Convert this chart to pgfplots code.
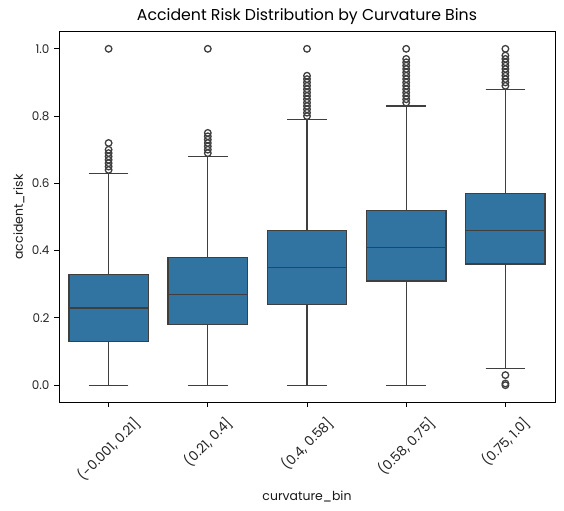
\documentclass[border=0pt]{standalone}
\usepackage{graphicx}
\usepackage{pgfplots}
\pgfplotsset{compat=1.18}
\usepgfplotslibrary{statistics}
\usetikzlibrary{calc}
\usepackage{fontspec}
\setmainfont{Poppins}
\definecolor{boxblue}{HTML}{3274A1}
\definecolor{edgegray}{HTML}{3F3F3F}
\pgfplotsset{
  bx/.style={
    boxplot prepared={#1},
    draw=edgegray, fill=boxblue, line width=1.3bp,
    boxplot/every whisker/.style={draw=edgegray, line width=1.3bp},
    boxplot/every median/.style={draw=edgegray, line width=1.4bp},
    mark=o, mark size=3.3bp,
    mark options={draw=edgegray, fill=none, line width=1.3bp, solid},
  },
}
\begin{document}
\begin{tikzpicture}
\begin{axis}[
  name=ax,
  boxplot/draw direction=y,
  scale only axis, width=496bp, height=370bp,
  xmin=-0.5, xmax=4.5, ymin=-0.05, ymax=1.05,
  xtick={0,1,2,3,4},
  xticklabels={
    {\rotatebox{45}{(-0.001, 0.21]}},
    {\rotatebox{45}{(0.21, 0.4]}},
    {\rotatebox{45}{(0.4, 0.58]}},
    {\rotatebox{45}{(0.58, 0.75]}},
    {\rotatebox{45}{(0.75, 1.0]}}},
  ytick={0,0.2,0.4,0.6,0.8,1.0},
  yticklabel style={/pgf/number format/fixed, /pgf/number format/fixed zerofill, /pgf/number format/precision=1},
  /pgf/number format/assume math mode=true,
  tick pos=left, tick align=outside,
  major tick length=4.9bp,
  every tick/.style={black, line width=1bp},
  axis line style={line width=1bp, black},
  tick label style={text=black!85},
  xticklabel style={anchor=north, inner sep=0pt, yshift=-8bp, font=\fontsize{13.5}{16}\selectfont},
  yticklabel style={anchor=east, inner sep=0pt, xshift=-4.5bp, font=\fontsize{12}{14}\selectfont},
  label style={font=\fontsize{12.5}{15}\selectfont, text=black!90},
  xlabel={curvature\_bin},
  ylabel={accident\_risk},
  xlabel style={at={(axis description cs:0.5,-0.267)}, anchor=base, inner sep=0pt},
  ylabel style={at={(axis description cs:-0.0726,0.5)}, anchor=base, inner sep=0pt},
  title={Accident Risk Distribution by Curvature Bins},
  title style={at={(axis description cs:0.5,1)}, anchor=base, yshift=6bp, inner sep=0pt, font=\fontsize{15.8}{19}\selectfont},
  clip=false,
]
\addplot[bx={draw position=0, box extend=0.8, whisker extend=0.4,
  lower whisker=0, lower quartile=0.13, median=0.23, upper quartile=0.33, upper whisker=0.63}]
  table[row sep=\\, y index=0] {data\\ 0.64\\ 0.65\\ 0.66\\ 0.67\\ 0.68\\ 0.69\\ 0.70\\ 0.72\\ 1.0\\};
\addplot[bx={draw position=1, box extend=0.8, whisker extend=0.4,
  lower whisker=0, lower quartile=0.18, median=0.27, upper quartile=0.38, upper whisker=0.68}]
  table[row sep=\\, y index=0] {data\\ 0.69\\ 0.70\\ 0.71\\ 0.72\\ 0.73\\ 0.74\\ 0.75\\ 1.0\\};
\addplot[bx={draw position=2, box extend=0.8, whisker extend=0.4,
  lower whisker=0, lower quartile=0.24, median=0.35, upper quartile=0.46, upper whisker=0.79}]
  table[row sep=\\, y index=0] {data\\ 0.80\\ 0.81\\ 0.82\\ 0.83\\ 0.84\\ 0.85\\ 0.86\\ 0.87\\ 0.88\\ 0.89\\ 0.90\\ 0.91\\ 0.92\\ 1.0\\};
\addplot[bx={draw position=3, box extend=0.8, whisker extend=0.4,
  lower whisker=0, lower quartile=0.31, median=0.41, upper quartile=0.52, upper whisker=0.83}]
  table[row sep=\\, y index=0] {data\\ 0.84\\ 0.85\\ 0.86\\ 0.87\\ 0.88\\ 0.89\\ 0.90\\ 0.91\\ 0.92\\ 0.93\\ 0.94\\ 0.95\\ 0.96\\ 0.97\\ 1.0\\};
\addplot[bx={draw position=4, box extend=0.8, whisker extend=0.4,
  lower whisker=0.05, lower quartile=0.36, median=0.46, upper quartile=0.57, upper whisker=0.88}]
  table[row sep=\\, y index=0] {data\\ 0.0\\ 0.005\\ 0.03\\ 0.89\\ 0.90\\ 0.91\\ 0.92\\ 0.93\\ 0.94\\ 0.95\\ 0.96\\ 0.97\\ 0.98\\ 1.0\\};
\end{axis}
\path[use as bounding box] ($(ax.south west)+(-59bp,-109bp)$) rectangle ($(ax.north east)+(9bp,32bp)$);
\end{tikzpicture}
\end{document}
